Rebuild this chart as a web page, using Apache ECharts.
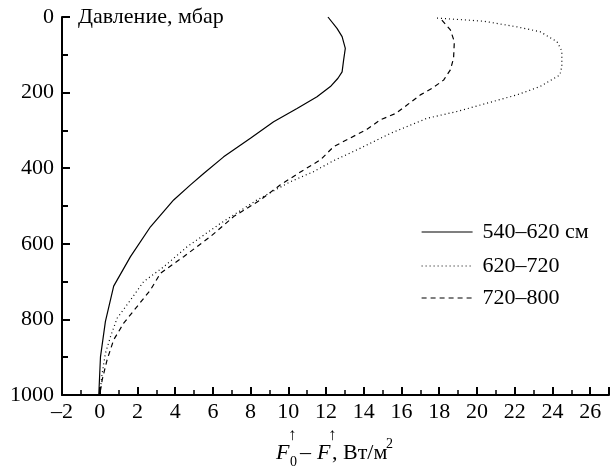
<!DOCTYPE html>
<html>
<head>
<meta charset="utf-8">
<script src="https://cdn.jsdelivr.net/npm/echarts@6/dist/echarts.min.js"></script>
<style>html,body{margin:0;padding:0;background:#fff}#c{width:611px;height:472px}</style>
</head>
<body>
<div id="c"></div>
<script>
// Series names
var seriesNames = ['540–620 см', '620–720', '720–800'];

// Series 1: 540–620 см  (flux difference, pressure)
var s1Flux = [12.1, 12.58, 12.85, 13.02, 12.93, 12.85, 12.63, 12.23, 11.52, 10.46, 9.22, 7.99, 6.57, 5.51, 4.81, 3.92, 2.69, 1.63, 0.74, 0.30, 0.04, -0.05];
var s1Pres = [0, 30, 52, 83, 114, 145, 162, 184, 211, 242, 277, 321, 370, 414, 444, 484, 555, 634, 712, 806, 899, 1000];

// Series 2: 620–720
var s2Flux = [17.88, 20.35, 22.12, 23.35, 24.24, 24.5, 24.5, 24.4, 23.35, 22.12, 20.53, 18.94, 17.35, 15.41, 13.7, 12.4, 11.34, 10.1, 8.34, 6.4, 4.63, 3.39, 2.33, 1.63, 0.92, 0.57, 0.30, 0.13, 0];
var s2Pres = [3, 11, 26, 39, 65, 90, 130, 153, 184, 206, 228, 250, 268, 308, 350, 380, 409, 436, 484, 546, 608, 661, 700, 749, 797, 846, 890, 943, 1000];

// Series 3: 720–800
var s3Flux = [18.14, 18.59, 18.8, 18.76, 18.59, 18.23, 17.61, 17.0, 16.29, 15.7, 14.88, 14.17, 12.4, 11.7, 10.64, 9.58, 8.52, 7.1, 5.87, 4.45, 3.22, 2.69, 1.98, 1.27, 0.74, 0.39, 0.13, 0];
var s3Pres = [8, 34, 65, 109, 140, 167, 189, 206, 233, 255, 272, 297, 343, 378, 410, 444, 484, 528, 581, 634, 678, 722, 766, 810, 854, 907, 960, 1000];

// Axis settings
var xMin = -2, xMax = 27, xStep = 2;
var yMin = 0, yMax = 1000, yStep = 200;
var yTitle = 'Давление, мбар';

function pairs(xs, ys) { return xs.map(function (v, i) { return [v, ys[i]]; }); }

var FONT = "'Liberation Serif', 'Times New Roman', serif";
var FS = 22;
var chart = echarts.init(document.getElementById('c'), null, { renderer: 'canvas' });

var lineTypes = ['solid', [1, 3], [5, 4]];
var datasets = [pairs(s1Flux, s1Pres), pairs(s2Flux, s2Pres), pairs(s3Flux, s3Pres)];

var series = datasets.map(function (d, i) {
  return {
    name: seriesNames[i],
    type: 'line',
    data: d,
    symbol: 'none',
    showSymbol: false,
    animation: false,
    lineStyle: { color: '#000', width: 1.2, type: lineTypes[i] },
    itemStyle: { color: '#000' }
  };
});

var legendTops = [221, 255, 287];
var legends = seriesNames.map(function (n, i) {
  return {
    data: [n],
    left: 421,
    top: legendTops[i],
    padding: 0,
    itemWidth: 51,
    itemHeight: 14,
    itemStyle: { opacity: 0 },
    lineStyle: { color: '#000', width: 1.2, type: lineTypes[i] },
    textStyle: { fontFamily: FONT, fontSize: FS, color: '#000', padding: [0, 0, 0, 5] }
  };
});

var small = 14;
var arrowFS = 17;
chart.setOption({
  animation: false,
  backgroundColor: '#fff',
  textStyle: { fontFamily: FONT },
  grid: { left: 62, right: 2, top: 17, bottom: 77, containLabel: false },
  legend: legends,
  xAxis: {
    type: 'value', min: xMin, max: xMax, interval: xStep, position: 'bottom',
    axisLine: { show: true, onZero: false, lineStyle: { color: '#000', width: 2 } },
    axisTick: { show: true, inside: true, length: 8, lineStyle: { color: '#000', width: 2 } },
    minorTick: { show: true, splitNumber: 2, length: 5, lineStyle: { color: '#000', width: 1.5 } },
    splitLine: { show: false },
    axisLabel: {
      showMaxLabel: false, margin: 6, color: '#000', fontFamily: FONT, fontSize: FS,
      formatter: function (v) { return v < 0 ? '–' + Math.abs(v) : String(v); }
    }
  },
  yAxis: {
    type: 'value', inverse: true, min: yMin, max: yMax, interval: yStep, position: 'left',
    axisLine: { show: true, onZero: false, lineStyle: { color: '#000', width: 2 } },
    axisTick: { show: true, inside: true, length: 8, lineStyle: { color: '#000', width: 2 } },
    minorTick: { show: true, splitNumber: 2, length: 6, lineStyle: { color: '#000', width: 2 } },
    splitLine: { show: false },
    axisLabel: { margin: 8, color: '#000', fontFamily: FONT, fontSize: FS, formatter: function (v) { return String(v); } }
  },
  graphic: [
    { type: 'text', x: 78, y: 17, style: { text: yTitle, fontFamily: FONT, fontSize: FS, fill: '#000', verticalAlign: 'middle' } },
    { type: 'text', x: 276, y: 453, style: { text: 'F', fontFamily: FONT, fontStyle: 'italic', fontSize: FS, fill: '#000', verticalAlign: 'middle' } },
    { type: 'text', x: 288, y: 436, style: { text: '↑', fontFamily: FONT, fontSize: arrowFS, fill: '#000', verticalAlign: 'middle' } },
    { type: 'text', x: 290, y: 462, style: { text: '0', fontFamily: FONT, fontSize: small, fill: '#000', verticalAlign: 'middle' } },
    { type: 'text', x: 300, y: 453, style: { text: '–', fontFamily: FONT, fontSize: FS, fill: '#000', verticalAlign: 'middle' } },
    { type: 'text', x: 317, y: 453, style: { text: 'F', fontFamily: FONT, fontStyle: 'italic', fontSize: FS, fill: '#000', verticalAlign: 'middle' } },
    { type: 'text', x: 328, y: 436, style: { text: '↑', fontFamily: FONT, fontSize: arrowFS, fill: '#000', verticalAlign: 'middle' } },
    { type: 'text', x: 332, y: 453, style: { text: ', Вт/м', fontFamily: FONT, fontSize: FS, fill: '#000', verticalAlign: 'middle' } },
    { type: 'text', x: 386, y: 444, style: { text: '2', fontFamily: FONT, fontSize: small, fill: '#000', verticalAlign: 'middle' } }
  ],
  series: series
});
</script>
</body>
</html>
